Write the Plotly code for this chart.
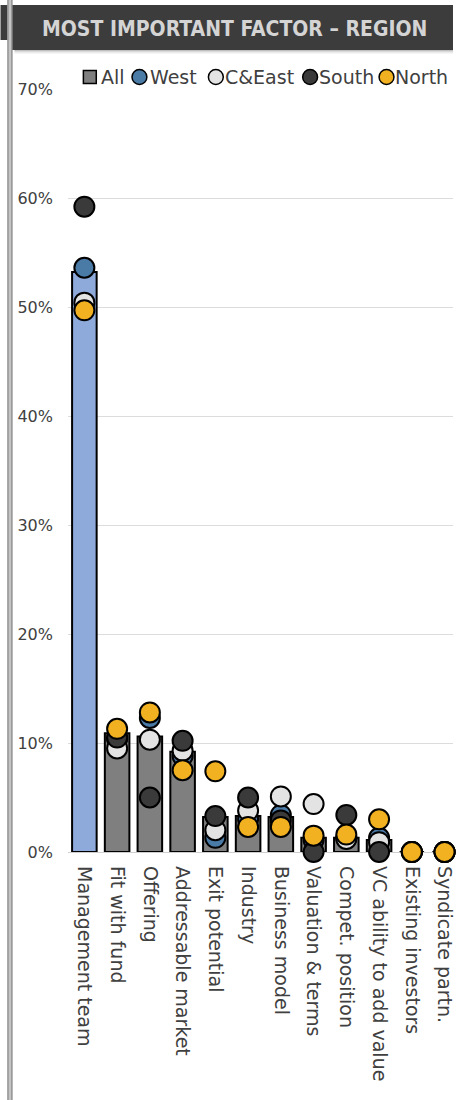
import plotly.graph_objects as go

categories = ["Management team", "Fit with fund", "Offering", "Addressable market",
              "Exit potential", "Industry", "Business model", "Valuation & terms",
              "Compet. position", "VC ability to add value", "Existing investors",
              "Syndicate partn."]
all_values = [53.2, 10.9, 10.6, 9.2, 3.2, 3.3, 3.2, 1.3, 1.3, 1.1, 0.0, 0.0]
west = [53.6, 10.4, 12.3, 8.8, 1.3, 3.0, 3.4, 1.1, 1.3, 1.3, 0.0, 0.0]
c_east = [50.4, 9.5, 10.3, 9.3, 2.0, 3.8, 5.1, 4.4, 1.2, 0.9, 0.0, 0.0]
south = [59.2, 10.5, 5.0, 10.2, 3.3, 5.0, 2.9, 0.0, 3.4, 0.0, 0.0, 0.0]
north = [49.7, 11.3, 12.8, 7.5, 7.4, 2.3, 2.3, 1.5, 1.6, 3.0, 0.0, 0.0]
y_ticks = [0, 10, 20, 30, 40, 50, 60, 70]

W, H = 456, 1100
L, T, B = 68, 89, 248
PW = W - L
PH = H - T - B

def px(x):
    return (x - L) / PW

def py(y):
    return (H - B - y) / PH

FONT = "DejaVu Sans, Lato, sans-serif"
TXT = "#404040"

bar_colors = ["#8eaadb"] + ["#7f7f7f"] * (len(categories) - 1)

fig = go.Figure()
fig.add_trace(go.Bar(
    x=categories, y=all_values, name="All", width=0.75,
    marker=dict(color=bar_colors, line=dict(color="black", width=2)),
    showlegend=False, cliponaxis=False,
))
series = [("West", west, "#4a7aa6"), ("C&East", c_east, "#e3e3e3"),
          ("South", south, "#3a3a3a"), ("North", north, "#f2b120")]
for name, vals, col in series:
    fig.add_trace(go.Scatter(
        x=categories, y=vals, name=name, mode="markers", cliponaxis=False,
        marker=dict(size=20, color=col, line=dict(color="black", width=2)),
        showlegend=False,
    ))

shapes = []
# left neighbour panel fragments
shapes.append(dict(type="rect", xref="paper", yref="paper", x0=px(0), x1=px(7), y0=py(40), y1=py(5),
                   fillcolor="#3c3c3c", line=dict(width=0), layer="above"))
shapes.append(dict(type="rect", xref="paper", yref="paper", x0=px(7), x1=px(12), y0=py(H), y1=py(0),
                   fillcolor="#c4c4c4", line=dict(width=0), layer="above"))
for xl in (7.5, 11.5):
    shapes.append(dict(type="line", xref="paper", yref="paper", x0=px(xl), x1=px(xl), y0=py(H), y1=py(0),
                       line=dict(color="#7a7a7a", width=1), layer="above"))
# title bar shadow
for i, op in enumerate([0.25, 0.15, 0.08, 0.04]):
    shapes.append(dict(type="rect", xref="paper", yref="paper", x0=px(14), x1=px(W), y0=py(50 + i + 1), y1=py(50 + i),
                       fillcolor="black", opacity=op, line=dict(width=0), layer="above"))
# title bar
shapes.append(dict(type="rect", xref="paper", yref="paper", x0=px(12), x1=px(W), y0=py(50), y1=py(5),
                   fillcolor="#3c3c3c", line=dict(width=0), layer="above"))

annotations = [dict(text="<b>MOST IMPORTANT FACTOR – REGION</b>", xref="paper", yref="paper",
                    x=px(236), y=py(29), xanchor="center", yanchor="middle", showarrow=False,
                    font=dict(family="Liberation Sans Narrow, DejaVu Sans Condensed, sans-serif",
                              size=21, color="#d4d4d4"))]

# manual legend
leg_y = 77
legend_items = [("All", "#7f7f7f", "square", 90, 99), ("West", "#4a7aa6", "circle", 140, 149),
                ("C&East", "#e3e3e3", "circle", 217, 224), ("South", "#3a3a3a", "circle", 312, 319),
                ("North", "#f2b120", "circle", 389, 396)]
for label, col, kind, cx, tx in legend_items:
    r = 7.5 if kind == "circle" else 6.5
    shapes.append(dict(type=("circle" if kind == "circle" else "rect"), xref="paper", yref="paper",
                       x0=px(cx - r), x1=px(cx + r), y0=py(leg_y + r), y1=py(leg_y - r),
                       fillcolor=col, line=dict(color="black", width=1.5), layer="above"))
    annotations.append(dict(text=label, xref="paper", yref="paper", x=px(tx), y=py(leg_y),
                            xanchor="left", yanchor="middle", showarrow=False,
                            font=dict(family=FONT, size=19, color=TXT)))

fig.update_layout(
    width=W, height=H, margin=dict(l=L, r=0, t=T, b=B),
    paper_bgcolor="white", plot_bgcolor="white",
    font=dict(family=FONT, color=TXT),
    shapes=shapes, annotations=annotations, showlegend=False,
    bargap=0.25,
)
fig.update_xaxes(range=[-0.5, PW / 33 - 0.5], tickangle=90, tickfont=dict(size=19, color=TXT),
                 showgrid=False, showline=False, ticks="", ticklabelstandoff=13, fixedrange=True)
fig.update_yaxes(range=[0, 70], tickvals=y_ticks, ticktext=[f"{v}%" for v in y_ticks],
                 tickfont=dict(size=16, color=TXT), showgrid=True, gridcolor="#dcdcdc", gridwidth=1,
                 zeroline=True, zerolinecolor="#cfcfcf", zerolinewidth=1, showline=False,
                 ticks="", ticklabelstandoff=14, fixedrange=True)

fig.write_html("out.html")
